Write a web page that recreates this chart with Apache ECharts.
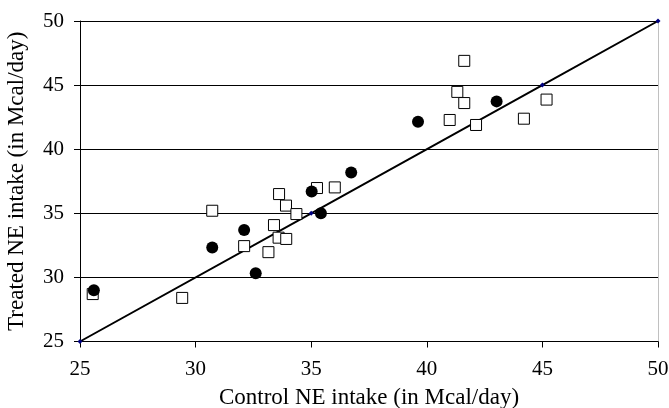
<!DOCTYPE html>
<html>
<head>
<meta charset="utf-8">
<script src="https://cdn.jsdelivr.net/npm/echarts@6/dist/echarts.min.js"></script>
<style>html,body{margin:0;padding:0;background:#fff}#c{width:669px;height:408px}</style>
</head>
<body>
<div id="c"></div>
<script>
var xTitle = 'Control NE intake (in Mcal/day)';
var yTitle = 'Treated NE intake (in Mcal/day)';
var squaresX = [25.55, 29.42, 30.72, 32.1, 33.15, 33.39, 33.59, 33.92, 33.61, 33.91, 34.36, 35.25, 36.02, 40.99, 41.32, 41.62, 41.62, 42.13, 44.2, 45.18];
var squaresY = [28.7, 28.4, 35.2, 32.44, 31.97, 34.08, 33.1, 33.0, 36.5, 35.6, 34.94, 36.97, 37.02, 42.28, 44.47, 46.89, 43.6, 41.89, 42.38, 43.87];
var circlesX = [25.6, 30.72, 32.1, 32.6, 35.02, 35.42, 36.73, 39.62, 43.02];
var circlesY = [29.0, 32.33, 33.7, 30.33, 36.7, 35.0, 38.19, 42.15, 43.73];
var lineX = [25, 35, 45, 50];
var lineY = [25, 35, 45, 50];

function zip(a, b) { return a.map(function (v, i) { return [v, b[i]]; }); }

var font = '"Liberation Serif", "Times New Roman", serif';
var chart = echarts.init(document.getElementById('c'), null, {renderer: 'canvas'});
chart.setOption({
  animation: false,
  backgroundColor: '#fff',
  grid: {left: 80, right: 11, top: 21, bottom: 66.5, containLabel: false, outerBoundsMode: 'none'},
  xAxis: {
    type: 'value', min: 25, max: 50, interval: 5,
    name: xTitle, nameLocation: 'middle', nameGap: 45,
    nameTextStyle: {fontFamily: font, fontSize: 23, color: '#000'},
    axisLine: {lineStyle: {color: '#000', width: 1}},
    axisTick: {show: true, inside: false, length: 6, lineStyle: {color: '#000'}},
    axisLabel: {fontFamily: font, fontSize: 21, color: '#000', margin: 17},
    splitLine: {show: false}
  },
  yAxis: [{
    type: 'value', min: 25, max: 50, interval: 5,
    name: yTitle, nameLocation: 'middle', nameGap: 52,
    nameTextStyle: {fontFamily: font, fontSize: 23, color: '#000'},
    axisLine: {show: true, lineStyle: {color: '#000', width: 1}},
    axisTick: {show: true, inside: false, length: 6, lineStyle: {color: '#000'}},
    axisLabel: {fontFamily: font, fontSize: 21, color: '#000', margin: 16},
    splitLine: {show: true, showMinLine: false, lineStyle: {color: ['#000', '#000', '#000', '#000', '#000', '#808080'], width: 1}}
  }, {
    type: 'value', min: 25, max: 50, interval: 5, position: 'right',
    axisLine: {show: true, lineStyle: {color: '#c0c0c0', width: 1}},
    axisTick: {show: false}, axisLabel: {show: false}, splitLine: {show: false}
  }],
  series: [{
    type: 'line', data: zip(lineX, lineY),
    symbol: 'diamond', symbolSize: 5,
    itemStyle: {color: '#000080', opacity: 1},
    lineStyle: {color: '#000', width: 2},
    z: 2
  }, {
    type: 'scatter', data: zip(squaresX, squaresY),
    symbol: 'rect', symbolSize: 11,
    itemStyle: {color: '#fff', borderColor: '#000', borderWidth: 1, opacity: 1},
    z: 3
  }, {
    type: 'scatter', data: zip(circlesX, circlesY),
    symbol: 'circle', symbolSize: 12,
    itemStyle: {color: '#000', opacity: 1},
    z: 4
  }]
});
</script>
</body>
</html>
